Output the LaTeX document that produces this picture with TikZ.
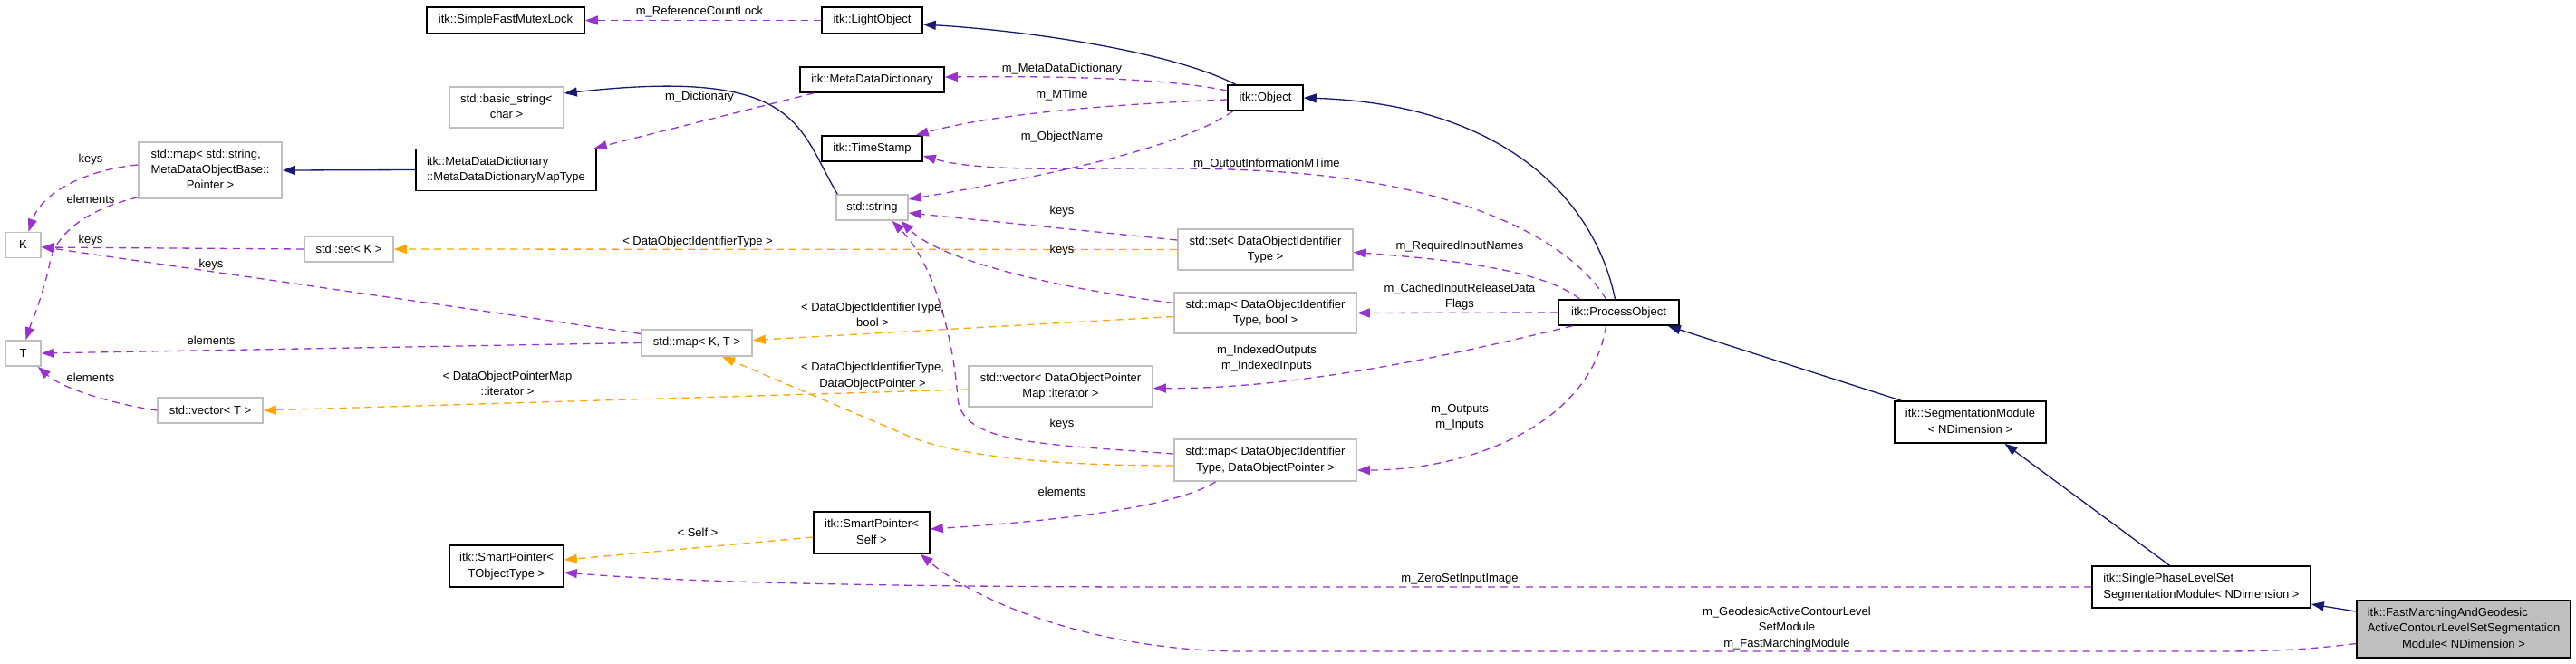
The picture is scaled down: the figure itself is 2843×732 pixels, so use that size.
\documentclass[tikz,border=0pt]{standalone}
\usepackage{fontspec}
\setmainfont{Liberation Sans}
\usetikzlibrary{arrows.meta,calc}
\definecolor{epurple}{HTML}{9A32CD}
\definecolor{eorange}{HTML}{FFA500}
\definecolor{enavy}{HTML}{191970}
\definecolor{ugray}{HTML}{BFBFBF}
\newcommand{\twol}[2]{\begin{tabular}{@{}l@{}}#1\\\multicolumn{1}{@{}c@{}}{#2}\end{tabular}}
\newcommand{\threel}[3]{\begin{tabular}{@{}l@{}}#1\\#2\\\multicolumn{1}{@{}c@{}}{#3}\end{tabular}}
\begin{document}
\begin{tikzpicture}[x=1pt,y=-1pt,
  every node/.style={font=\fontsize{13}{17.3}\selectfont},
  box/.style={rectangle, inner sep=0pt, line width=1.6pt},
  cls/.style={box, draw=black},
  ucls/.style={box, draw=ugray},
  mcls/.style={box, draw=black, fill=ugray},
  lbl/.style={inner sep=0pt, align=center},
  pe/.style={draw=epurple, line width=1.3pt, dash pattern=on 8pt off 6pt, -{Triangle[length=14pt,width=10pt]}},
  oe/.style={draw=eorange, line width=1.3pt, dash pattern=on 8pt off 6pt, -{Triangle[length=14pt,width=10pt]}},
  ne/.style={draw=enavy, line width=1.3pt, -{Triangle[length=14pt,width=10pt]}}]
\useasboundingbox (0,0) rectangle (2843,732);

% nodes
\node[cls, minimum width=174pt, minimum height=29pt] (mutex) at (558,22.5) {itk::SimpleFastMutexLock};
\node[cls, minimum width=111pt, minimum height=29pt] (light) at (962.5,22.5) {itk::LightObject};
\node[ucls, minimum width=126pt, minimum height=45pt] (bstr) at (559,118.5) {\twol{std::basic\_string<}{char >}};
\node[cls, minimum width=159pt, minimum height=28pt] (mdd) at (962.5,88) {itk::MetaDataDictionary};
\node[ucls, minimum width=158pt, minimum height=62pt] (mapstr) at (232,188) {\threel{std::map< std::string,}{MetaDataObjectBase::}{Pointer >}};
\node[cls, minimum width=199pt, minimum height=46pt] (maptype) at (558.5,187.5) {\twol{itk::MetaDataDictionary}{::MetaDataDictionaryMapType}};
\node[cls, minimum width=111pt, minimum height=28pt] (ts) at (962.5,164) {itk::TimeStamp};
\node[ucls, minimum width=79pt, minimum height=28pt] (str) at (962.5,229) {std::string};
\node[cls, minimum width=83pt, minimum height=28pt] (obj) at (1396.5,108) {itk::Object};
\node[ucls, minimum width=39pt, minimum height=28pt] (K) at (25.5,270.5) {K};
\node[ucls, minimum width=39pt, minimum height=28pt] (T) at (25.5,390) {T};
\node[ucls, minimum width=98pt, minimum height=28pt] (setK) at (385,275) {std::set< K >};
\node[ucls, minimum width=122pt, minimum height=29pt] (mapKT) at (769,378.5) {std::map< K, T >};
\node[ucls, minimum width=116pt, minimum height=28pt] (vecT) at (232,453) {std::vector< T >};
\node[ucls, minimum width=193pt, minimum height=45pt] (setD) at (1396.5,275.5) {\twol{std::set< DataObjectIdentifier}{Type >}};
\node[ucls, minimum width=201pt, minimum height=45pt] (mapDb) at (1396.5,345.5) {\twol{std::map< DataObjectIdentifier}{Type, bool >}};
\node[ucls, minimum width=203pt, minimum height=45pt] (vecD) at (1170.5,426.5) {\twol{std::vector< DataObjectPointer}{Map::iterator >}};
\node[cls, minimum width=133pt, minimum height=28pt] (po) at (1786.5,345) {itk::ProcessObject};
\node[ucls, minimum width=201pt, minimum height=46pt] (mapDP) at (1396.5,508) {\twol{std::map< DataObjectIdentifier}{Type, DataObjectPointer >}};
\node[cls, minimum width=128pt, minimum height=46pt] (spS) at (962,588) {\twol{itk::SmartPointer<}{Self >}};
\node[cls, minimum width=126pt, minimum height=46pt] (spT) at (559,625) {\twol{itk::SmartPointer<}{TObjectType >}};
\node[cls, minimum width=167pt, minimum height=46pt] (seg) at (2174.5,466) {\twol{itk::SegmentationModule}{< NDimension >}};
\node[cls, minimum width=241pt, minimum height=46pt] (sp) at (2429.5,648) {\twol{itk::SinglePhaseLevelSet}{SegmentationModule< NDimension >}};
\node[mcls, minimum width=236pt, minimum height=63pt] (fm) at (2719,694.5) {\threel{itk::FastMarchingAndGeodesic}{ActiveContourLevelSetSegmentation}{Module< NDimension >}};

% edges
\draw[pe] (light.west) -- (mutex.east);
\draw[ne] ([xshift=-33pt]obj.north) .. controls (1300,60) and (1150,35) .. ([yshift=-4.5pt]light.east);
\draw[pe] ([yshift=8pt]obj.west) .. controls (1280,85) and (1150,84) .. ([yshift=3pt]mdd.east);
\draw[pe] ([yshift=-2pt]obj.west) .. controls (1230,115) and (1100,125) .. ([xshift=-8pt]ts.north east);
\draw[pe] ([xshift=-36pt]obj.south) .. controls (1300,165) and (1150,195) .. ([yshift=9pt]str.east);
\draw[pe] ([xshift=-14pt]po.north) .. controls (1730,260) and (1600,200) .. (1400,189) .. controls (1250,180) and (1100,195) .. ([yshift=-8pt]ts.east);
\draw[ne] ([xshift=-4pt]po.north) .. controls (1760,220) and (1660,115) .. (obj.east);
\draw[pe] ([xshift=-43pt]po.north) .. controls (1700,295) and (1580,285) .. ([yshift=-3pt]setD.east);
\draw[pe] (po.west) -- (mapDb.east);
\draw[pe] ([xshift=-51pt]po.south) .. controls (1650,380) and (1450,430) .. ([yshift=-2pt]vecD.east);
\draw[pe] ([xshift=-14pt]po.south) .. controls (1755,470) and (1620,519) .. ([yshift=-11pt]mapDP.east);
\draw[ne] ([xshift=8pt]seg.north west) -- ([xshift=-13pt]po.south east);
\draw[ne] ([xshift=-35pt]sp.north) -- ([xshift=38pt]seg.south);
\draw[ne] ([yshift=19.5pt]fm.west) -- ([yshift=-19pt]sp.east);
\draw[pe] ([yshift=-16pt]fm.west) .. controls (2540,718) and (2500,719) .. (2440,719) -- (1373,719) .. controls (1220,719) and (1085,670) .. ([xshift=-11pt]spS.south east);
\draw[pe] (sp.west) -- (1300,648) .. controls (900,648) and (720,640) .. ([yshift=-7pt]spT.east);
\draw[oe] ([yshift=-5pt]spS.west) -- ([yshift=7pt]spT.east);
\draw[pe] ([xshift=-55pt]mapDP.south) .. controls (1290,565) and (1120,578) .. ([yshift=4pt]spS.east);
\draw[pe] ([yshift=7pt]mapDP.west) .. controls (1150,490) and (1062,490) .. (1057,440) .. controls (1052,370) and (1030,290) .. ([xshift=22pt]str.south);
\draw[oe] ([yshift=-6pt]mapDP.west) .. controls (1140,514) and (1040,500) .. (995,478) -- ([xshift=28pt]mapKT.south);
\draw[oe] ([yshift=-4pt]mapDb.west) -- ([yshift=3pt]mapKT.east);
\draw[pe] ([yshift=11pt]mapDb.west) .. controls (1180,320) and (1040,290) .. ([xshift=32pt]str.south);
\draw[pe] ([yshift=10.5pt]setD.west) -- ([yshift=-6pt]str.east);
\draw[oe] (setD.west) -- (setK.east);
\draw[oe] ([yshift=-3.5pt]vecD.west) -- (vecT.east);
\draw[pe] ([yshift=10pt]mapKT.west) -- ([yshift=-2pt]K.east);
\draw[pe] (mapKT.west) -- (T.east);
\draw[pe] (setK.west) -- ([yshift=-2.5pt]K.east);
\draw[pe] (vecT.west) .. controls (130,447) and (70,430) .. ([xshift=-4pt]T.south east);
\draw[pe] ([yshift=6pt]mapstr.west) .. controls (90,188) and (45,215) .. ([xshift=6pt]K.north);
\draw[pe] ([yshift=2pt]mapstr.south west) .. controls (100,230) and (62,255) .. (55,290) .. controls (48,325) and (35,355) .. ([xshift=3pt]T.north);
\draw[ne] (maptype.west) -- (mapstr.east);
\draw[pe] ([xshift=16pt]mdd.south west) -- ([xshift=-3pt]maptype.north east);
\draw[ne] ([xshift=2pt]str.north west) .. controls (880,140) and (884,74) .. ([yshift=15.5pt]bstr.east);

% labels
\node[lbl] (l1) at (772,13) {m\_ReferenceCountLock};
\node[lbl] (l2) at (772,107) {m\_Dictionary};
\node[lbl] (l3) at (1172,76) {m\_MetaDataDictionary};
\node[lbl] (l4) at (1172,105) {m\_MTime};
\node[lbl] (l5) at (1172,151) {m\_ObjectName};
\node[lbl] (l6) at (1398,181) {m\_OutputInformationMTime};
\node[lbl] (l7) at (1172,233) {keys};
\node[lbl] (l8) at (1172,276) {keys};
\node[lbl] (l9) at (1172,468) {keys};
\node[lbl] (l10) at (1611,272) {m\_RequiredInputNames};
\node[lbl] (l11) at (1611,327.5) {m\_CachedInputReleaseData\\Flags};
\node[lbl] (l12) at (1398,395.5) {m\_IndexedOutputs\\m\_IndexedInputs};
\node[lbl] (l13) at (1611,461) {m\_Outputs\\m\_Inputs};
\node[lbl] (l14) at (963,347.5) {< DataObjectIdentifierType,\\bool >};
\node[lbl] (l15) at (963,415) {< DataObjectIdentifierType,\\DataObjectPointer >};
\node[lbl] (l16) at (770,267) {< DataObjectIdentifierType >};
\node[lbl] (l17) at (100,265) {keys};
\node[lbl] (l18) at (233,292) {keys};
\node[lbl] (l19) at (233,376) {elements};
\node[lbl] (l20) at (100,417) {elements};
\node[lbl] (l21) at (100,176) {keys};
\node[lbl] (l22) at (100,220) {elements};
\node[lbl] (l23) at (560,423.5) {< DataObjectPointerMap\\::iterator >};
\node[lbl] (l24) at (1172,543) {elements};
\node[lbl] (l25) at (770,588) {< Self >};
\node[lbl] (l26) at (1611,639) {m\_ZeroSetInputImage};
\node[lbl] (l27) at (1972,693.5) {m\_GeodesicActiveContourLevel\\SetModule\\m\_FastMarchingModule};
\end{tikzpicture}
\end{document}
